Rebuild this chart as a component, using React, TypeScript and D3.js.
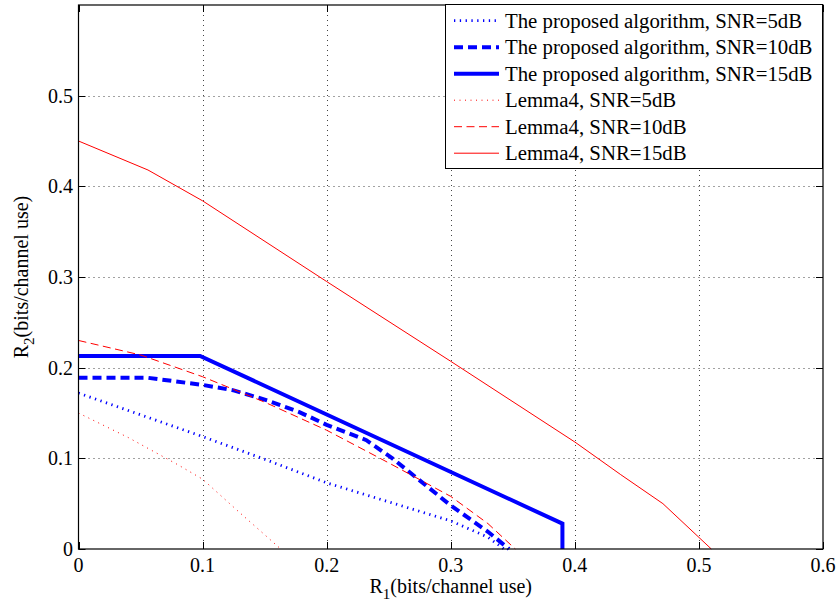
import React from "react";
import * as d3 from "d3";

// R1 / R2 pairs
const propSnr5X = [0, 0.05, 0.1, 0.15, 0.2, 0.25, 0.3, 0.33, 0.343];
const propSnr5Y = [0.172, 0.148, 0.124, 0.099, 0.073, 0.052, 0.031, 0.013, 0];
const propSnr10X = [0, 0.055, 0.1, 0.125, 0.152, 0.178, 0.2, 0.232, 0.253, 0.3, 0.33, 0.347];
const propSnr10Y = [0.189, 0.189, 0.181, 0.175, 0.164, 0.151, 0.137, 0.12, 0.1, 0.048, 0.019, 0];
const propSnr15X = [0, 0.098, 0.39, 0.39];
const propSnr15Y = [0.213, 0.213, 0.028, 0];
const lemSnr5X = [0, 0.04, 0.08, 0.1, 0.13, 0.163];
const lemSnr5Y = [0.15, 0.123, 0.093, 0.077, 0.04, 0];
const lemSnr10X = [0, 0.05, 0.1, 0.15, 0.2, 0.25, 0.3, 0.33, 0.352];
const lemSnr10Y = [0.23, 0.214, 0.19, 0.162, 0.131, 0.095, 0.058, 0.028, 0];
const lemSnr15X = [0, 0.056, 0.1, 0.2, 0.3, 0.4, 0.437, 0.471, 0.51];
const lemSnr15Y = [0.45, 0.418, 0.384, 0.295, 0.207, 0.118, 0.082, 0.05, 0];

const xTicks = [0, 0.1, 0.2, 0.3, 0.4, 0.5, 0.6];
const yTicks = [0, 0.1, 0.2, 0.3, 0.4, 0.5];

const seriesNames = [
  "The proposed algorithm, SNR=5dB",
  "The proposed algorithm, SNR=10dB",
  "The proposed algorithm, SNR=15dB",
  "Lemma4, SNR=5dB",
  "Lemma4, SNR=10dB",
  "Lemma4, SNR=15dB",
];

const FONT = "'Liberation Serif', 'Times New Roman', serif";

const W = 838;
const H = 610;
const left = 78.5, right = 823, top = 5, bottom = 549;

const styles = [
  { color: "#0000ff", width: 2.8, dash: "1.3,4.5" },
  { color: "#0000ff", width: 4, dash: "9,5" },
  { color: "#0000ff", width: 4, dash: undefined },
  { color: "#ff0000", width: 1, dash: "1,4.5" },
  { color: "#ff0000", width: 1, dash: "8,4.5" },
  { color: "#ff0000", width: 1, dash: undefined },
];

const zip = (xs: number[], ys: number[]) => xs.map((v, i) => [v, ys[i]] as [number, number]);

const App = () => {
  const x = d3.scaleLinear().domain([0, 0.6]).range([left, right]);
  const y = d3.scaleLinear().domain([0, 0.6]).range([bottom, top]);
  const line = d3
    .line<[number, number]>()
    .x((d) => x(d[0]))
    .y((d) => y(d[1]));

  const data = [
    zip(propSnr5X, propSnr5Y),
    zip(propSnr10X, propSnr10Y),
    zip(propSnr15X, propSnr15Y),
    zip(lemSnr5X, lemSnr5Y),
    zip(lemSnr10X, lemSnr10Y),
    zip(lemSnr15X, lemSnr15Y),
  ];

  const snap = (v: number) => Math.round(v) + 0.5;

  return (
    <svg width={W} height={H} style={{ position: "absolute", left: 0, top: 0, fontFamily: FONT }}>
      <rect width={W} height={H} fill="#fff" />

      {/* grid */}
      <g stroke="#444" strokeWidth={1} strokeDasharray="1,4">
        {xTicks.slice(1, -1).map((t) => (
          <line key={"gx" + t} x1={snap(x(t))} x2={snap(x(t))} y1={top} y2={bottom} />
        ))}
        {yTicks.slice(1).map((t) => (
          <line key={"gy" + t} y1={snap(y(t))} y2={snap(y(t))} x1={left} x2={right} />
        ))}
      </g>

      {/* ticks on all four sides */}
      <g stroke="#000" strokeWidth={1}>
        {xTicks.map((t) => (
          <g key={"tx" + t}>
            <line x1={snap(x(t))} x2={snap(x(t))} y1={bottom} y2={bottom - 7} />
            <line x1={snap(x(t))} x2={snap(x(t))} y1={top} y2={top + 7} />
          </g>
        ))}
        {yTicks.map((t) => (
          <g key={"ty" + t}>
            <line y1={snap(y(t))} y2={snap(y(t))} x1={left} x2={left + 7} />
            <line y1={snap(y(t))} y2={snap(y(t))} x1={right} x2={right - 7} />
          </g>
        ))}
      </g>

      {/* curves */}
      {data.map((d, i) => (
        <path
          key={"s" + i}
          d={line(d) ?? ""}
          fill="none"
          stroke={styles[i].color}
          strokeWidth={styles[i].width}
          strokeDasharray={styles[i].dash}
        />
      ))}

      {/* frame */}
      <rect x={left} y={top} width={right - left} height={bottom - top} fill="none" stroke="#000" strokeWidth={1.2} />

      {/* tick labels */}
      <g fontSize={20} fill="#000" style={{ fontFamily: FONT }}>
        {xTicks.map((t) => (
          <text key={"lx" + t} x={x(t)} y={572} textAnchor="middle">
            {String(t)}
          </text>
        ))}
        {yTicks.map((t) => (
          <text key={"ly" + t} x={73} y={y(t)} dy="0.35em" textAnchor="end">
            {String(t)}
          </text>
        ))}

        <text x={(left + right) / 2} y={593} textAnchor="middle">
          <tspan>R</tspan>
          <tspan fontSize={15} dy={6}>1</tspan>
          <tspan dy={-6}>(bits/channel use)</tspan>
        </text>
        <text transform={`translate(28,${(top + bottom) / 2}) rotate(-90)`} textAnchor="middle">
          <tspan>R</tspan>
          <tspan fontSize={15} dy={6}>2</tspan>
          <tspan dy={-6}>(bits/channel use)</tspan>
        </text>
      </g>

      {/* legend */}
      <g>
        <rect x={445.5} y={4.5} width={377} height={164} fill="#fff" stroke="#000" strokeWidth={1} />
        {seriesNames.map((name, i) => {
          const cy = 20.7 + i * 26.5;
          return (
            <g key={"lg" + i}>
              <line
                x1={454}
                x2={499}
                y1={cy}
                y2={cy}
                stroke={styles[i].color}
                strokeWidth={styles[i].width}
                strokeDasharray={styles[i].dash}
              />
              <text x={505} y={cy} dy="0.35em" fontSize={20.8} style={{ fontFamily: FONT }}>
                {name}
              </text>
            </g>
          );
        })}
      </g>
    </svg>
  );
};

export default App;
